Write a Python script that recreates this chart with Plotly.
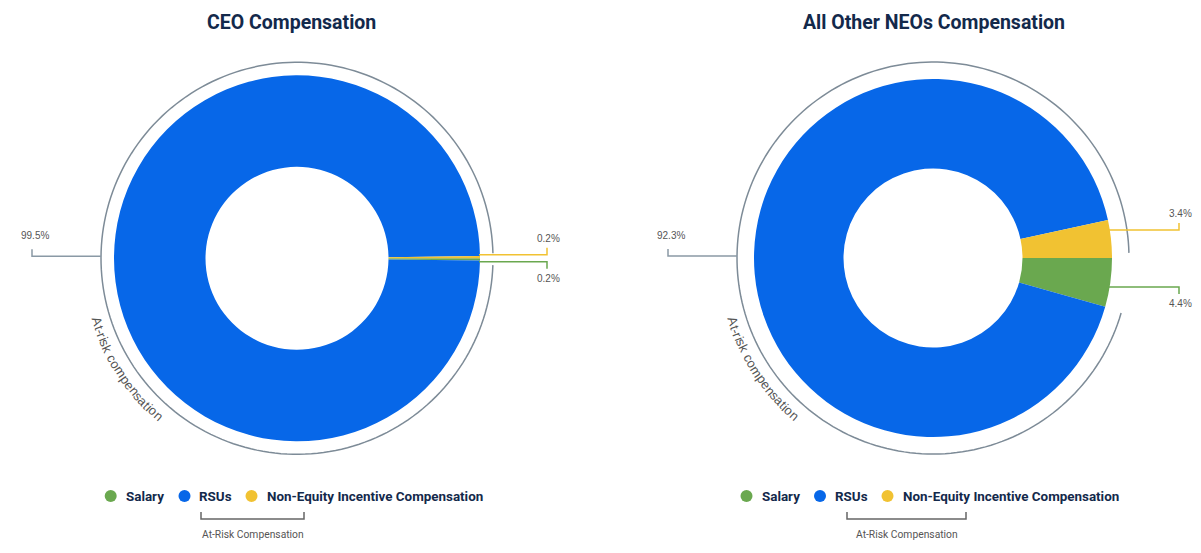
import math
import plotly.graph_objects as go

W, H = 1201, 553

# ---------------- data ----------------
categories = ["Salary", "RSUs", "Non-Equity Incentive Compensation"]
ceo_values = [0.2, 99.5, 0.2]
neo_values = [4.4, 92.3, 3.4]
colors = ["#6AA84F", "#0767E8", "#F1C232"]
chart_titles = ["CEO Compensation", "All Other NEOs Compensation"]
arc_text = "At-risk compensation"
bracket_text = "At-Risk Compensation"

# ---------------- layout / styling ----------------
charts = [
    dict(values=ceo_values, title=chart_titles[0], cx=297, cy=258.3, r=183, title_x=291,
         small_off={2: -3.5, 0: 3.5}, big_off=-2,
         leg_dot=[110.7, 184.5, 251.5], leg_txt=[124, 197, 265], bracket=(201, 304)),
    dict(values=neo_values, title=chart_titles[1], cx=933, cy=258, r=179, title_x=934,
         small_off={2: -28, 0: 29}, big_off=-2,
         leg_dot=[746.5, 820, 887.5], leg_txt=[760, 833, 901], bracket=(847, 966)),
]
ARC_R = 196
TEXT_R = 210
GRAY = "#7D8B97"
LABEL_COLOR = "#555555"
NAVY = "#13294B"

fig = go.Figure()
shapes = []
annotations = []

arial_w = {"A": 667, "t": 278, "-": 333, "r": 333, "i": 222, "s": 500, "k": 500, " ": 278,
           "c": 500, "o": 556, "m": 833, "p": 556, "e": 556, "n": 556, "a": 556}

for ch in charts:
    cx, cy, r = ch["cx"], ch["cy"], ch["r"]
    vals = ch["values"]
    total = sum(vals)
    fig.add_trace(go.Pie(
        labels=categories, values=vals, marker=dict(colors=colors, line=dict(width=0)),
        sort=False, direction="clockwise", rotation=90, hole=0.5,
        textinfo="none", showlegend=False, hoverinfo="label+percent",
        domain=dict(x=[(cx - r) / W, (cx + r) / W],
                    y=[1 - (cy + r) / H, 1 - (cy - r) / H]),
    ))

    # title
    annotations.append(dict(x=ch["title_x"], y=22, xref="x", yref="y", text=f"<b>{ch['title']}</b>",
                            showarrow=False, font=dict(family="Roboto", size=19.5, color=NAVY),
                            xanchor="center", yanchor="middle"))

    # outer at-risk arc (covers RSUs + Non-Equity, i.e. everything except Salary)
    sal_span = vals[0] / total * 360
    a0 = max(sal_span + 0.5, 2.0)
    a1 = 360 - 1.5
    n = 200
    pts = []
    for k in range(n + 1):
        a = math.radians(a0 + (a1 - a0) * k / n)
        pts.append((cx + ARC_R * math.cos(a), cy + ARC_R * math.sin(a)))
    path = "M " + " L ".join(f"{x:.2f},{y:.2f}" for x, y in pts)
    shapes.append(dict(type="path", path=path, xref="x", yref="y",
                       line=dict(color=GRAY, width=1.5)))

    # curved text along the arc
    widths = [arial_w.get(c, 556) * 13 / 1000 for c in arc_text]
    tw = sum(widths)
    phi_mid = math.radians(147)
    cum = 0
    for c, w in zip(arc_text, widths):
        s = cum + w / 2 - tw / 2
        cum += w
        if c == " ":
            continue
        phi = phi_mid - s / TEXT_R
        annotations.append(dict(x=cx + TEXT_R * math.cos(phi), y=cy + TEXT_R * math.sin(phi),
                                xref="x", yref="y", text=c, showarrow=False,
                                textangle=math.degrees(phi) - 90,
                                font=dict(family="Liberation Sans", size=13, color="#555555"),
                                xanchor="center", yanchor="middle"))

    # small slice leader lines (right side)
    for idx, off in ch["small_off"].items():
        yl = cy + off
        xs = cx + math.sqrt(max(r * r - off * off, 0)) - 1
        xe = cx + r + 67
        sign = -1 if off < 0 else 1
        shapes.append(dict(type="path", xref="x", yref="y",
                           path=f"M {xs},{yl} L {xe},{yl} L {xe},{yl + sign * 7}",
                           line=dict(color=colors[idx], width=1.5)))
        annotations.append(dict(x=xe + 1, y=yl + sign * 9, xref="x", yref="y",
                                text=f"{vals[idx]}%", showarrow=False,
                                font=dict(family="Liberation Sans", size=10, color=LABEL_COLOR),
                                xanchor="center", yanchor="bottom" if sign < 0 else "top"))

    # big slice leader line (left side)
    yl = cy + ch["big_off"]
    xs = cx - ARC_R
    xe = cx - 265
    shapes.append(dict(type="path", xref="x", yref="y",
                       path=f"M {xs},{yl} L {xe},{yl} L {xe},{yl - 7}",
                       line=dict(color="#8A99A5", width=1.5)))
    annotations.append(dict(x=xe + 3, y=yl - 13, xref="x", yref="y", text=f"{vals[1]}%",
                            showarrow=False,
                            font=dict(family="Liberation Sans", size=10, color=LABEL_COLOR),
                            xanchor="center", yanchor="bottom"))

    # legend
    fig.add_trace(go.Scatter(x=ch["leg_dot"], y=[496] * 3, mode="markers",
                             marker=dict(size=12, color=colors, line=dict(width=0)),
                             showlegend=False, hoverinfo="skip", xaxis="x", yaxis="y"))
    for tx, lab in zip(ch["leg_txt"], categories):
        annotations.append(dict(x=tx, y=496, xref="x", yref="y", text=f"<b>{lab}</b>",
                                showarrow=False, font=dict(family="Roboto", size=13.4, color=NAVY),
                                xanchor="left", yanchor="middle"))
    b0, b1 = ch["bracket"]
    shapes.append(dict(type="path", xref="x", yref="y",
                       path=f"M {b0},512 L {b0},519 L {b1},519 L {b1},512",
                       line=dict(color="#666666", width=1.5)))
    annotations.append(dict(x=(b0 + b1) / 2, y=534, xref="x", yref="y", text=bracket_text,
                            showarrow=False, font=dict(family="Roboto", size=10.3, color=LABEL_COLOR),
                            xanchor="center", yanchor="middle"))

fig.update_layout(
    width=W, height=H, margin=dict(l=0, r=0, t=0, b=0),
    paper_bgcolor="white", plot_bgcolor="rgba(0,0,0,0)",
    xaxis=dict(range=[0, W], visible=False, fixedrange=True, domain=[0, 1]),
    yaxis=dict(range=[H, 0], visible=False, fixedrange=True, domain=[0, 1]),
    shapes=shapes, annotations=annotations, showlegend=False,
)

fig.write_html("out.html")
